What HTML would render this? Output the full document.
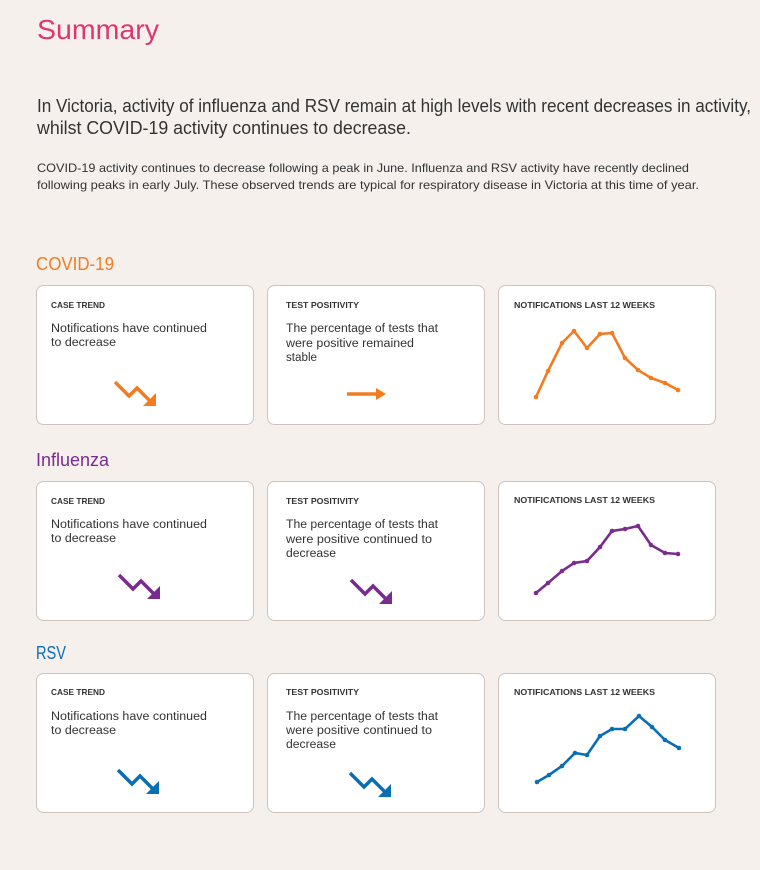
<!DOCTYPE html>
<html><head><meta charset="utf-8"><style>
body{margin:0;background:#f5f0ec;}
svg{display:block;font-family:"Liberation Sans",sans-serif;}
.h{font-size:8.5px;font-weight:bold;fill:#333;}
.b{font-size:11.5px;fill:#333;}
.card{fill:#fff;stroke:#cfc3bb;stroke-width:1;}
</style></head><body>
<svg width="760" height="870" viewBox="0 0 760 870">
<defs>
<g id="down"><path d="M0,0 L14,14 L22,6 L35,19" fill="none" stroke-width="3.5"/><polygon points="41,24 28,24 41,11" stroke="none"/></g>
</defs>
<rect width="760" height="870" fill="#f5f0ec"/>
<text x="37" y="39" font-size="28" fill="#e0366f" textLength="122" lengthAdjust="spacingAndGlyphs">Summary</text>
<text x="37" y="112" font-size="18.5" fill="#333" textLength="714" lengthAdjust="spacingAndGlyphs">In Victoria, activity of influenza and RSV remain at high levels with recent decreases in activity,</text>
<text x="37" y="134" font-size="18.5" fill="#333" textLength="374" lengthAdjust="spacingAndGlyphs">whilst COVID-19 activity continues to decrease.</text>
<text x="37" y="172" font-size="12" fill="#333" textLength="652" lengthAdjust="spacingAndGlyphs">COVID-19 activity continues to decrease following a peak in June. Influenza and RSV activity have recently declined</text>
<text x="37" y="189" font-size="12" fill="#333" textLength="662" lengthAdjust="spacingAndGlyphs">following peaks in early July. These observed trends are typical for respiratory disease in Victoria at this time of year.</text>

<text x="36" y="270" font-size="18" fill="#f47b20" textLength="78" lengthAdjust="spacingAndGlyphs">COVID-19</text>
<text x="36" y="466" font-size="18" fill="#7a2b8e" textLength="73" lengthAdjust="spacingAndGlyphs">Influenza</text>
<text x="36" y="659" font-size="18" fill="#0a6eb4" textLength="30" lengthAdjust="spacingAndGlyphs">RSV</text>

<!-- row 1 -->
<rect class="card" x="36.5" y="285.5" width="217" height="139" rx="7"/>
<rect class="card" x="267.5" y="285.5" width="217" height="139" rx="7"/>
<rect class="card" x="498.5" y="285.5" width="217" height="139" rx="7"/>
<text class="h" x="51" y="308" textLength="54" lengthAdjust="spacingAndGlyphs">CASE TREND</text>
<text class="b" x="51" y="332" textLength="156" lengthAdjust="spacingAndGlyphs">Notifications have continued</text>
<text class="b" x="51" y="346" textLength="65" lengthAdjust="spacingAndGlyphs">to decrease</text>
<text class="h" x="286" y="308" textLength="73" lengthAdjust="spacingAndGlyphs">TEST POSITIVITY</text>
<text class="b" x="286" y="332" textLength="152" lengthAdjust="spacingAndGlyphs">The percentage of tests that</text>
<text class="b" x="286" y="347" textLength="128" lengthAdjust="spacingAndGlyphs">were positive remained</text>
<text class="b" x="286" y="361" textLength="31" lengthAdjust="spacingAndGlyphs">stable</text>
<text class="h" x="514" y="308" textLength="141" lengthAdjust="spacingAndGlyphs">NOTIFICATIONS LAST 12 WEEKS</text>
<use href="#down" x="115" y="382" stroke="#f47b20" fill="#f47b20"/>
<path d="M347,394 L377,394" stroke="#f47b20" stroke-width="3.5"/><polygon points="386,394 376,388 376,400" fill="#f47b20"/>
<g stroke="#f47b20" fill="#f47b20">
<polyline fill="none" stroke-width="2.6" points="536,397 548,371 562,343 574,331 587,348 600,334 612,333 625,358 638,370 651,378 665,383 678,390"/>
<g stroke="none"><circle cx="536" cy="397" r="2.3"/><circle cx="548" cy="371" r="2.3"/><circle cx="562" cy="343" r="2.3"/><circle cx="574" cy="331" r="2.3"/><circle cx="587" cy="348" r="2.3"/><circle cx="600" cy="334" r="2.3"/><circle cx="612" cy="333" r="2.3"/><circle cx="625" cy="358" r="2.3"/><circle cx="638" cy="370" r="2.3"/><circle cx="651" cy="378" r="2.3"/><circle cx="665" cy="383" r="2.3"/><circle cx="678" cy="390" r="2.3"/></g>
</g>

<!-- row 2 -->
<rect class="card" x="36.5" y="481.5" width="217" height="139" rx="7"/>
<rect class="card" x="267.5" y="481.5" width="217" height="139" rx="7"/>
<rect class="card" x="498.5" y="481.5" width="217" height="139" rx="7"/>
<text class="h" x="51" y="504" textLength="54" lengthAdjust="spacingAndGlyphs">CASE TREND</text>
<text class="b" x="51" y="528" textLength="156" lengthAdjust="spacingAndGlyphs">Notifications have continued</text>
<text class="b" x="51" y="542" textLength="65" lengthAdjust="spacingAndGlyphs">to decrease</text>
<text class="h" x="286" y="504" textLength="73" lengthAdjust="spacingAndGlyphs">TEST POSITIVITY</text>
<text class="b" x="286" y="528" textLength="152" lengthAdjust="spacingAndGlyphs">The percentage of tests that</text>
<text class="b" x="286" y="543" textLength="146" lengthAdjust="spacingAndGlyphs">were positive continued to</text>
<text class="b" x="286" y="557" textLength="50" lengthAdjust="spacingAndGlyphs">decrease</text>
<text class="h" x="514" y="503" textLength="141" lengthAdjust="spacingAndGlyphs">NOTIFICATIONS LAST 12 WEEKS</text>
<use href="#down" x="119" y="575" stroke="#7a2b8e" fill="#7a2b8e"/>
<use href="#down" x="351" y="580" stroke="#7a2b8e" fill="#7a2b8e"/>
<g stroke="#7a2b8e" fill="#7a2b8e">
<polyline fill="none" stroke-width="2.6" points="536,593 548,583 562,571 574,563 587,561 600,547 612,531 625,529 638,526 651,545 665,553 678,554"/>
<g stroke="none"><circle cx="536" cy="593" r="2.3"/><circle cx="548" cy="583" r="2.3"/><circle cx="562" cy="571" r="2.3"/><circle cx="574" cy="563" r="2.3"/><circle cx="587" cy="561" r="2.3"/><circle cx="600" cy="547" r="2.3"/><circle cx="612" cy="531" r="2.3"/><circle cx="625" cy="529" r="2.3"/><circle cx="638" cy="526" r="2.3"/><circle cx="651" cy="545" r="2.3"/><circle cx="665" cy="553" r="2.3"/><circle cx="678" cy="554" r="2.3"/></g>
</g>

<!-- row 3 -->
<rect class="card" x="36.5" y="673.5" width="217" height="139" rx="7"/>
<rect class="card" x="267.5" y="673.5" width="217" height="139" rx="7"/>
<rect class="card" x="498.5" y="673.5" width="217" height="139" rx="7"/>
<text class="h" x="51" y="695" textLength="54" lengthAdjust="spacingAndGlyphs">CASE TREND</text>
<text class="b" x="51" y="720" textLength="156" lengthAdjust="spacingAndGlyphs">Notifications have continued</text>
<text class="b" x="51" y="734" textLength="65" lengthAdjust="spacingAndGlyphs">to decrease</text>
<text class="h" x="286" y="695" textLength="73" lengthAdjust="spacingAndGlyphs">TEST POSITIVITY</text>
<text class="b" x="286" y="720" textLength="152" lengthAdjust="spacingAndGlyphs">The percentage of tests that</text>
<text class="b" x="286" y="734" textLength="146" lengthAdjust="spacingAndGlyphs">were positive continued to</text>
<text class="b" x="286" y="748" textLength="50" lengthAdjust="spacingAndGlyphs">decrease</text>
<text class="h" x="514" y="695" textLength="141" lengthAdjust="spacingAndGlyphs">NOTIFICATIONS LAST 12 WEEKS</text>
<use href="#down" x="118" y="770" stroke="#0a6eb4" fill="#0a6eb4"/>
<use href="#down" x="350" y="773" stroke="#0a6eb4" fill="#0a6eb4"/>
<g stroke="#0a6eb4" fill="#0a6eb4">
<polyline fill="none" stroke-width="2.6" points="537,782 549,775 562,766 575,753 587,755 600,736 612,729 625,729 639,716 652,727 665,740 679,748"/>
<g stroke="none"><circle cx="537" cy="782" r="2.3"/><circle cx="549" cy="775" r="2.3"/><circle cx="562" cy="766" r="2.3"/><circle cx="575" cy="753" r="2.3"/><circle cx="587" cy="755" r="2.3"/><circle cx="600" cy="736" r="2.3"/><circle cx="612" cy="729" r="2.3"/><circle cx="625" cy="729" r="2.3"/><circle cx="639" cy="716" r="2.3"/><circle cx="652" cy="727" r="2.3"/><circle cx="665" cy="740" r="2.3"/><circle cx="679" cy="748" r="2.3"/></g>
</g>
</svg>
</body></html>
